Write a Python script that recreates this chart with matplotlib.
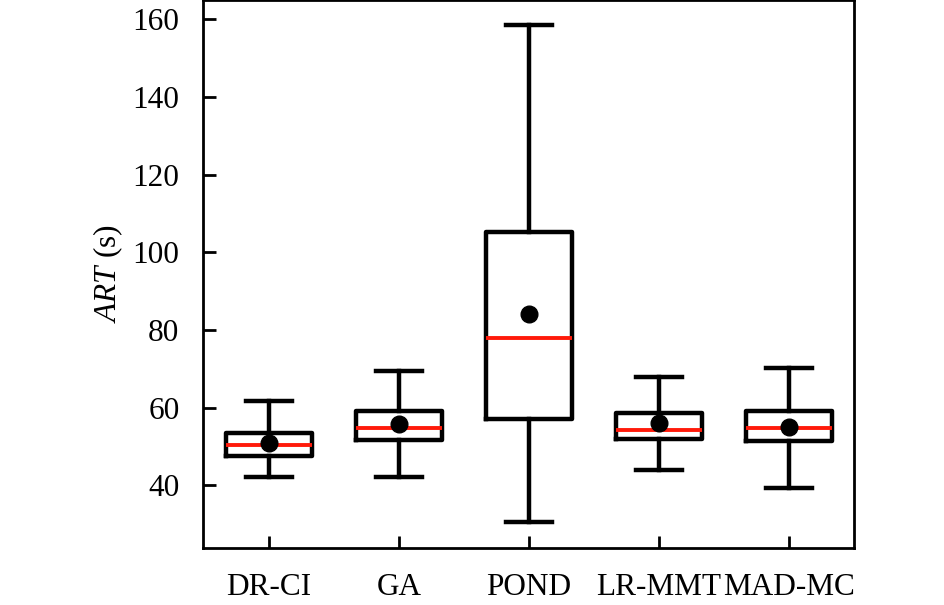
import matplotlib
matplotlib.use("Agg")
import matplotlib.pyplot as plt

categories = ["DR-CI", "GA", "POND", "LR-MMT", "MAD-MC"]
whislo = [42.2, 42.1, 30.6, 43.8, 39.3]
q1 = [47.5, 51.5, 57.0, 51.8, 51.3]
med = [50.4, 54.7, 77.8, 54.3, 54.7]
q3 = [53.5, 59.1, 105.1, 58.7, 59.2]
whishi = [61.7, 69.5, 158.5, 67.9, 70.1]
means = [50.9, 55.7, 84.0, 56.1, 55.1]
yticks = [40, 60, 80, 100, 120, 140, 160]

plt.rcParams["font.family"] = ["Liberation Serif", "DejaVu Serif"]
plt.rcParams["mathtext.fontset"] = "custom"
plt.rcParams["mathtext.it"] = "Liberation Serif:italic"
plt.rcParams["mathtext.rm"] = "Liberation Serif"

fig = plt.figure(figsize=(9.45, 6.05), dpi=100)
ax = fig.add_axes([203 / 945, 57 / 605, (854 - 203) / 945, 548 / 605])

stats = []
for i, c in enumerate(categories):
    stats.append(dict(label=c, whislo=whislo[i], q1=q1[i], med=med[i],
                      q3=q3[i], whishi=whishi[i], mean=means[i], fliers=[]))

positions = list(range(1, len(categories) + 1))
ax.bxp(stats, positions=positions, widths=0.665, showmeans=True,
       showfliers=False,
       boxprops=dict(color="black", linewidth=3.2),
       whiskerprops=dict(color="black", linewidth=3.2),
       capprops=dict(color="black", linewidth=3.2),
       medianprops=dict(color="#ff1a0a", linewidth=2.8),
       meanprops=dict(marker="o", markerfacecolor="black",
                      markeredgecolor="black", markersize=12),
       capwidths=0.35)

ax.set_xlim(0.492, 5.5)
ax.set_ylim(23.8, 165.0)
ax.set_yticks(yticks)
ax.set_xticks(positions)
ax.set_xticklabels(categories)
ax.tick_params(axis="both", direction="in", length=9, width=2.0,
               labelsize=22.5, top=False, right=False)
ax.tick_params(axis="x", pad=18)
ax.tick_params(axis="y", pad=17)
for s in ax.spines.values():
    s.set_linewidth(2.0)
ax.set_ylabel(r"$\mathit{ART}$ (s)", fontsize=22.5)
ax.yaxis.set_label_coords(-(203 - 125) / 651, 0.5)

fig.savefig("out.png", dpi=100)
